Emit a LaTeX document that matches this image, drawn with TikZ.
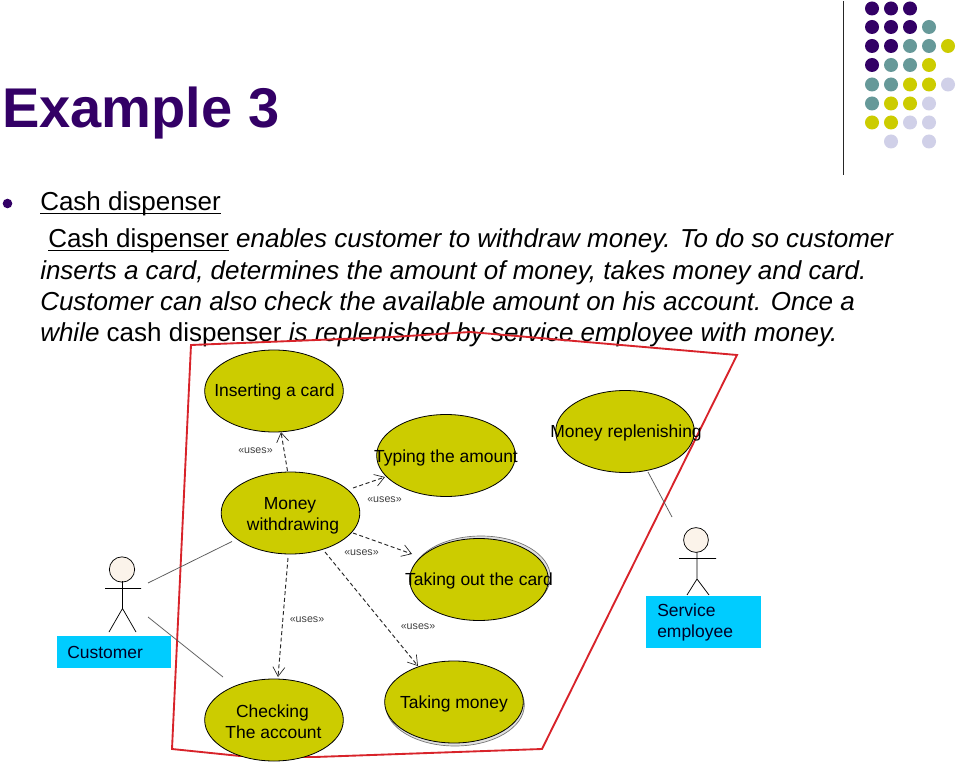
\documentclass[tikz,border=0pt]{standalone}
\usepackage{fontspec}
\setmainfont{Liberation Sans}
\usetikzlibrary{arrows.meta,shapes.geometric}
\definecolor{purp}{HTML}{330066}
\definecolor{teal2}{HTML}{669999}
\definecolor{oli}{HTML}{CCCC00}
\definecolor{lav}{HTML}{D0D0E8}
\definecolor{redl}{HTML}{D8232A}
\definecolor{cyanb}{HTML}{00CCFF}
\definecolor{headc}{HTML}{FBF3EA}
\newcommand{\ulcash}[1]{\setbox0=\hbox{#1}\rlap{\rule[-2.2pt]{\wd0}{0.75pt}}\box0 }
\tikzset{
  x=0.75pt,y=-0.75pt,
  usecase/.style={draw=black,fill=oli,ellipse,line width=0.6pt,minimum width=104pt,minimum height=61.5pt,inner sep=0pt},
  ghost/.style={draw=black!55,fill=black!12,ellipse,line width=0.5pt,minimum width=104pt,minimum height=61.5pt,inner sep=0pt},
  uctext/.style={font=\fontsize{13.1}{15.6}\selectfont,align=center,text=black,inner sep=0pt},
  usesl/.style={font=\fontsize{8}{9}\selectfont,text=black!75,inner sep=0pt},
  dep/.style={densely dashed,line width=0.7pt,draw=black!85,-{Straight Barb[length=7pt,width=9pt,line width=0.5pt]}},
  assoc/.style={line width=0.55pt,draw=black!65},
  actorl/.style={line width=0.55pt,draw=black},
  tagbox/.style={fill=cyanb,inner sep=0pt,anchor=north west},
  body/.style={font=\fontsize{19.5}{23}\selectfont,anchor=base west,inner sep=0pt,text=black},
  dotp/.style={fill=purp,draw=none},
  dott/.style={fill=teal2,draw=none},
  doty/.style={fill=oli,draw=none},
  dotl/.style={fill=lav,draw=none}
}
\begin{document}
\begin{tikzpicture}
\useasboundingbox (0,0) rectangle (960,766);
\fill[white] (0,0) rectangle (960,766);
% decoration
\draw[line width=0.8pt,black!85] (843.5,1) -- (843.5,175);
\foreach \x/\y/\s in {872/8.5/dotp,891/8.5/dotp,910/8.5/dotp,
 872/27/dotp,891/27/dotp,910/27/dotp,929/27/dott,
 872/46/dotp,891/46/dotp,910/46/dott,929/46/dott,948/46/doty,
 872/65/dotp,891/65/dott,910/65/dott,929/65/doty,
 872/84.5/dott,891/84.5/dott,910/84.5/doty,929/84.5/doty,948/84.5/dotl,
 872/103.5/dott,891/103.5/doty,910/103.5/doty,929/103.5/dotl,
 872/122.5/doty,891/122.5/doty,910/122.5/dotl,929/122.5/dotl,
 891/141.5/dotl,929/141.5/dotl}
  \fill[\s] (\x,\y) circle[radius=5.25pt];
% text
\node[anchor=base west,inner sep=0pt,text=purp,font=\fontsize{42}{50}\selectfont\bfseries] (title) at (2,128) {Example 3};
\fill[purp] (7.5,203.5) circle[radius=3.6pt];
\node[body] (t0) at (40,211) {\ulcash{Cash dispenser}};
\node[body] (t1) at (48,248) {\ulcash{Cash dispenser}\ \textit{enables customer to withdraw money. To do so customer}};
\node[body] (t2) at (40,279.5) {\textit{inserts a card, determines the amount of money, takes money and card.}};
\node[body] (t3) at (40,310.5) {\textit{Customer can also check the available amount on his account. Once a}};
\node[body] (t4) at (40,342) {\textit{while} cash dispenser \textit{is replenished by service employee with money.}};
% system boundary
\draw[redl,line width=1.4pt,line join=miter] (191,345) -- (392,337) -- (470,332) -- (737,355) -- (542,749) -- (315,757) -- (240,756) -- (172,749) -- cycle;
% use cases
\node[ghost] (outG) at (481,577) {};
\node[ghost] (monG) at (455,705) {};
\node[usecase] (ins) at (274,391) {};
\node[usecase] (typ) at (446,455.5) {};
\node[usecase] (rep) at (625,431.5) {};
\node[usecase] (wd) at (290.5,513) {};
\node[usecase] (out) at (479,579.5) {};
\node[usecase] (chk) at (274,720) {};
\node[usecase] (mon) at (454,702) {};
\node[uctext] (insT) at (274.5,392) {Inserting a card};
\node[uctext] (typT) at (446,458) {Typing the amount};
\node[uctext] (repT) at (626,433) {Money replenishing};
\node[uctext] (wdT) at (293,515.5) {Money\hspace*{4.5pt}\\withdrawing};
\node[uctext] (outT) at (479,580.5) {Taking out the card};
\node[uctext] (chkT) at (273.5,722) {Checking\hspace*{1.5pt}\\The account};
\node[uctext] (monT) at (454,703.5) {Taking money};
% dependencies
\coordinate (a1) at (287.5,471);
\coordinate (a2) at (281,432);
\draw[dep] (a1) -- (a2);
\coordinate (b1) at (353,488);
\coordinate (b2) at (385,477);
\draw[dep] (b1) -- (b2);
\coordinate (c1) at (353,533);
\coordinate (c2) at (412,554);
\draw[dep] (c1) -- (c2);
\coordinate (d1) at (288,558);
\coordinate (d2) at (278,677);
\draw[dep] (d1) -- (d2);
\coordinate (e1) at (325,552);
\coordinate (e2) at (418,666);
\draw[dep] (e1) -- (e2);
% uses labels
\node[usesl] (u1) at (255.5,450.5) {«uses»};
\node[usesl] (u2) at (384.5,500) {«uses»};
\node[usesl] (u3) at (361.5,553) {«uses»};
\node[usesl] (u4) at (307,619.5) {«uses»};
\node[usesl] (u5) at (418,626.5) {«uses»};
% actors
\draw[actorl,fill=headc] (122,569.5) circle[radius=9.5pt];
\draw[actorl] (122.5,581) -- (122.5,608.5) (105,588.5) -- (141,588.5) (122.5,608.5) -- (109,632) (122.5,608.5) -- (136,632);
\draw[actorl,fill=headc] (696,540) circle[radius=9.3pt];
\draw[actorl] (697,552) -- (697,579) (679,558.5) -- (716,558.5) (697,579) -- (687,595) (697,579) -- (709,595);
% name tags
\node[tagbox,minimum width=85.5pt,minimum height=23.5pt] (cust) at (57,636) {};
\node[anchor=base west,inner sep=0pt,font=\fontsize{13.1}{15.6}\selectfont,text=black!85!blue] (custT) at (67,658) {Customer};
\node[tagbox,minimum width=86pt,minimum height=39pt] (serv) at (646,595.5) {};
\node[anchor=north west,inner sep=0pt,align=left,font=\fontsize{13.1}{15.6}\selectfont,text=black!85!blue] (servT) at (657,604) {Service\\employee};
% associations
\coordinate (ca) at (148,583);
\coordinate (cb) at (232,541.5);
\draw[assoc] (ca) -- (cb);
\coordinate (cc) at (148,617);
\coordinate (cd) at (223,677);
\draw[assoc] (cc) -- (cd);
\coordinate (sa) at (648,472);
\coordinate (sb) at (672,517);
\draw[assoc] (sa) -- (sb);
\end{tikzpicture}
\end{document}
